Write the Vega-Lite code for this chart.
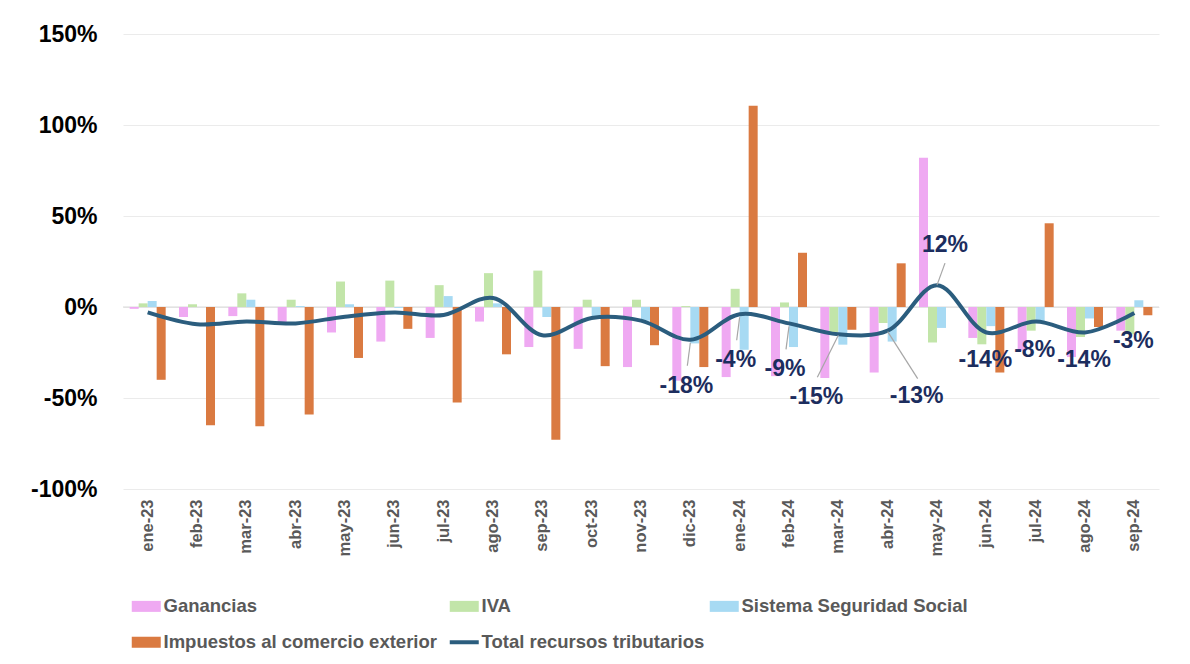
{
  "$schema": "https://vega.github.io/schema/vega-lite/v6.json",
  "width": 1036,
  "height": 455,
  "autosize": "none",
  "padding": {"left": 123, "top": 34, "right": 31, "bottom": 175},
  "background": "white",
  "config": {
    "view": {"stroke": null},
    "font": "Liberation Sans",
    "locale": {"number": {"decimal": ".", "thousands": ",", "grouping": [3], "currency": ["$", ""], "minus": "-"}}
  },
  "datasets": {
    "barras": [
      {"mes": "ene-23", "serie": "Ganancias", "valor": -0.01},
      {"mes": "ene-23", "serie": "IVA", "valor": 0.02},
      {"mes": "ene-23", "serie": "Sistema Seguridad Social", "valor": 0.033},
      {"mes": "ene-23", "serie": "Impuestos al comercio exterior", "valor": -0.40},
      {"mes": "feb-23", "serie": "Ganancias", "valor": -0.055},
      {"mes": "feb-23", "serie": "IVA", "valor": 0.015},
      {"mes": "feb-23", "serie": "Sistema Seguridad Social", "valor": 0.0},
      {"mes": "feb-23", "serie": "Impuestos al comercio exterior", "valor": -0.65},
      {"mes": "mar-23", "serie": "Ganancias", "valor": -0.05},
      {"mes": "mar-23", "serie": "IVA", "valor": 0.075},
      {"mes": "mar-23", "serie": "Sistema Seguridad Social", "valor": 0.04},
      {"mes": "mar-23", "serie": "Impuestos al comercio exterior", "valor": -0.655},
      {"mes": "abr-23", "serie": "Ganancias", "valor": -0.085},
      {"mes": "abr-23", "serie": "IVA", "valor": 0.04},
      {"mes": "abr-23", "serie": "Sistema Seguridad Social", "valor": 0.005},
      {"mes": "abr-23", "serie": "Impuestos al comercio exterior", "valor": -0.59},
      {"mes": "may-23", "serie": "Ganancias", "valor": -0.14},
      {"mes": "may-23", "serie": "IVA", "valor": 0.14},
      {"mes": "may-23", "serie": "Sistema Seguridad Social", "valor": 0.015},
      {"mes": "may-23", "serie": "Impuestos al comercio exterior", "valor": -0.28},
      {"mes": "jun-23", "serie": "Ganancias", "valor": -0.19},
      {"mes": "jun-23", "serie": "IVA", "valor": 0.145},
      {"mes": "jun-23", "serie": "Sistema Seguridad Social", "valor": -0.005},
      {"mes": "jun-23", "serie": "Impuestos al comercio exterior", "valor": -0.12},
      {"mes": "jul-23", "serie": "Ganancias", "valor": -0.17},
      {"mes": "jul-23", "serie": "IVA", "valor": 0.12},
      {"mes": "jul-23", "serie": "Sistema Seguridad Social", "valor": 0.06},
      {"mes": "jul-23", "serie": "Impuestos al comercio exterior", "valor": -0.525},
      {"mes": "ago-23", "serie": "Ganancias", "valor": -0.08},
      {"mes": "ago-23", "serie": "IVA", "valor": 0.186},
      {"mes": "ago-23", "serie": "Sistema Seguridad Social", "valor": 0.02},
      {"mes": "ago-23", "serie": "Impuestos al comercio exterior", "valor": -0.26},
      {"mes": "sep-23", "serie": "Ganancias", "valor": -0.22},
      {"mes": "sep-23", "serie": "IVA", "valor": 0.20},
      {"mes": "sep-23", "serie": "Sistema Seguridad Social", "valor": -0.055},
      {"mes": "sep-23", "serie": "Impuestos al comercio exterior", "valor": -0.73},
      {"mes": "oct-23", "serie": "Ganancias", "valor": -0.23},
      {"mes": "oct-23", "serie": "IVA", "valor": 0.04},
      {"mes": "oct-23", "serie": "Sistema Seguridad Social", "valor": -0.055},
      {"mes": "oct-23", "serie": "Impuestos al comercio exterior", "valor": -0.325},
      {"mes": "nov-23", "serie": "Ganancias", "valor": -0.33},
      {"mes": "nov-23", "serie": "IVA", "valor": 0.04},
      {"mes": "nov-23", "serie": "Sistema Seguridad Social", "valor": -0.075},
      {"mes": "nov-23", "serie": "Impuestos al comercio exterior", "valor": -0.21},
      {"mes": "dic-23", "serie": "Ganancias", "valor": -0.405},
      {"mes": "dic-23", "serie": "IVA", "valor": 0.005},
      {"mes": "dic-23", "serie": "Sistema Seguridad Social", "valor": -0.20},
      {"mes": "dic-23", "serie": "Impuestos al comercio exterior", "valor": -0.33},
      {"mes": "ene-24", "serie": "Ganancias", "valor": -0.385},
      {"mes": "ene-24", "serie": "IVA", "valor": 0.10},
      {"mes": "ene-24", "serie": "Sistema Seguridad Social", "valor": -0.235},
      {"mes": "ene-24", "serie": "Impuestos al comercio exterior", "valor": 1.106},
      {"mes": "feb-24", "serie": "Ganancias", "valor": -0.38},
      {"mes": "feb-24", "serie": "IVA", "valor": 0.025},
      {"mes": "feb-24", "serie": "Sistema Seguridad Social", "valor": -0.22},
      {"mes": "feb-24", "serie": "Impuestos al comercio exterior", "valor": 0.298},
      {"mes": "mar-24", "serie": "Ganancias", "valor": -0.39},
      {"mes": "mar-24", "serie": "IVA", "valor": -0.14},
      {"mes": "mar-24", "serie": "Sistema Seguridad Social", "valor": -0.207},
      {"mes": "mar-24", "serie": "Impuestos al comercio exterior", "valor": -0.125},
      {"mes": "abr-24", "serie": "Ganancias", "valor": -0.36},
      {"mes": "abr-24", "serie": "IVA", "valor": -0.088},
      {"mes": "abr-24", "serie": "Sistema Seguridad Social", "valor": -0.19},
      {"mes": "abr-24", "serie": "Impuestos al comercio exterior", "valor": 0.24},
      {"mes": "may-24", "serie": "Ganancias", "valor": 0.82},
      {"mes": "may-24", "serie": "IVA", "valor": -0.195},
      {"mes": "may-24", "serie": "Sistema Seguridad Social", "valor": -0.115},
      {"mes": "may-24", "serie": "Impuestos al comercio exterior", "valor": 0.0},
      {"mes": "jun-24", "serie": "Ganancias", "valor": -0.17},
      {"mes": "jun-24", "serie": "IVA", "valor": -0.205},
      {"mes": "jun-24", "serie": "Sistema Seguridad Social", "valor": -0.105},
      {"mes": "jun-24", "serie": "Impuestos al comercio exterior", "valor": -0.36},
      {"mes": "jul-24", "serie": "Ganancias", "valor": -0.24},
      {"mes": "jul-24", "serie": "IVA", "valor": -0.13},
      {"mes": "jul-24", "serie": "Sistema Seguridad Social", "valor": -0.08},
      {"mes": "jul-24", "serie": "Impuestos al comercio exterior", "valor": 0.46},
      {"mes": "ago-24", "serie": "Ganancias", "valor": -0.275},
      {"mes": "ago-24", "serie": "IVA", "valor": -0.165},
      {"mes": "ago-24", "serie": "Sistema Seguridad Social", "valor": -0.063},
      {"mes": "ago-24", "serie": "Impuestos al comercio exterior", "valor": -0.11},
      {"mes": "sep-24", "serie": "Ganancias", "valor": -0.13},
      {"mes": "sep-24", "serie": "IVA", "valor": -0.15},
      {"mes": "sep-24", "serie": "Sistema Seguridad Social", "valor": 0.037},
      {"mes": "sep-24", "serie": "Impuestos al comercio exterior", "valor": -0.046}
    ],
    "total": [
      {"mes": "ene-23", "total": -0.03},
      {"mes": "feb-23", "total": -0.095},
      {"mes": "mar-23", "total": -0.08},
      {"mes": "abr-23", "total": -0.09},
      {"mes": "may-23", "total": -0.053},
      {"mes": "jun-23", "total": -0.03},
      {"mes": "jul-23", "total": -0.044},
      {"mes": "ago-23", "total": 0.05},
      {"mes": "sep-23", "total": -0.155},
      {"mes": "oct-23", "total": -0.06},
      {"mes": "nov-23", "total": -0.075},
      {"mes": "dic-23", "total": -0.18},
      {"mes": "ene-24", "total": -0.04},
      {"mes": "feb-24", "total": -0.09},
      {"mes": "mar-24", "total": -0.15},
      {"mes": "abr-24", "total": -0.13},
      {"mes": "may-24", "total": 0.12},
      {"mes": "jun-24", "total": -0.14},
      {"mes": "jul-24", "total": -0.08},
      {"mes": "ago-24", "total": -0.14},
      {"mes": "sep-24", "total": -0.033}
    ]
  },
  "encoding": {
    "x": {
      "field": "mes",
      "type": "nominal",
      "scale": {
        "domain": ["ene-23","feb-23","mar-23","abr-23","may-23","jun-23","jul-23","ago-23","sep-23","oct-23","nov-23","dic-23","ene-24","feb-24","mar-24","abr-24","may-24","jun-24","jul-24","ago-24","sep-24"],
        "paddingInner": 0.27,
        "paddingOuter": 0.135
      },
      "axis": {
        "title": null,
        "labelAngle": -90,
        "labelFontSize": 16.5,
        "labelFontWeight": "bold",
        "labelColor": "#595959",
        "labelPadding": 10,
        "domain": false,
        "ticks": false,
        "grid": false
      }
    }
  },
  "layer": [
    {
      "data": {"values": [{"cero": 0}]},
      "mark": {"type": "rule", "color": "#D9D9D9", "strokeWidth": 1},
      "encoding": {"y": {"field": "cero", "type": "quantitative"}, "x": null}
    },
    {
      "data": {"name": "barras"},
      "mark": {"type": "bar"},
      "encoding": {
        "xOffset": {
          "field": "serie",
          "type": "nominal",
          "scale": {"domain": ["Ganancias","IVA","Sistema Seguridad Social","Impuestos al comercio exterior"], "paddingInner": 0, "paddingOuter": 0}
        },
        "y": {
          "field": "valor",
          "type": "quantitative",
          "scale": {"domain": [-1, 1.5], "nice": false},
          "axis": {
            "title": null,
            "values": [-1, -0.5, 0, 0.5, 1, 1.5],
            "format": ".0%",
            "labelFontSize": 23,
            "labelFontWeight": "bold",
            "labelColor": "#000000",
            "labelPadding": 26,
            "domain": false,
            "ticks": false,
            "gridColor": "#EBEBEB",
            "gridWidth": 1
          }
        },
        "color": {
          "field": "serie",
          "type": "nominal",
          "scale": {
            "domain": ["Ganancias","IVA","Sistema Seguridad Social","Impuestos al comercio exterior","Total recursos tributarios"],
            "range": ["#EFA9F2","#C2E5A9","#A7DAF3","#DA7A41","#2B5D7E"]
          },
          "legend": {
            "title": null,
            "orient": "none",
            "legendX": 14,
            "legendY": 563,
            "direction": "horizontal",
            "columns": 3,
            "columnPadding": 4,
            "rowPadding": 17,
            "padding": 0,
            "labelFontSize": 18.5,
            "labelFontWeight": "bold",
            "labelColor": "#595959",
            "labelOffset": 8,
            "labelLimit": 400,
            "symbolSize": 841,
            "symbolType": "M-1,-0.38H1V0.38H-1Z",
            "encode": {
              "symbols": {
                "update": {
                  "shape": {"signal": "datum.label === 'Total recursos tributarios' ? 'stroke' : 'M-1,-0.38H1V0.38H-1Z'"},
                  "fill": {"signal": "datum.label === 'Total recursos tributarios' ? 'transparent' : scale('color', datum.value)"},
                  "stroke": {"signal": "scale('color', datum.value)"},
                  "strokeWidth": {"signal": "datum.label === 'Total recursos tributarios' ? 4 : 0"},
                  "opacity": {"value": 1}
                }
              }
            }
          }
        }
      }
    },
    {
      "data": {"name": "total"},
      "mark": {"type": "line", "interpolate": "catmull-rom", "strokeWidth": 4},
      "encoding": {
        "y": {"field": "total", "type": "quantitative"},
        "color": {"datum": "Total recursos tributarios"}
      }
    },
    {
      "data": {"name": "total"},
      "transform": [{"filter": {"field": "mes", "oneOf": ["dic-23","ene-24","feb-24"]}}],
      "mark": {"type": "rule", "color": "#A6A6A6", "strokeWidth": 1.2, "yOffset": 3, "x2Offset": -3, "y2Offset": 26},
      "encoding": {
        "y": {"field": "total", "type": "quantitative"},
        "x2": {"field": "mes"},
        "y2": {"field": "total"}
      }
    },
    {
      "data": {"name": "total"},
      "transform": [{"filter": {"field": "mes", "equal": "mar-24"}}],
      "mark": {"type": "rule", "color": "#A6A6A6", "strokeWidth": 1.2, "yOffset": 1, "x2Offset": -21, "y2Offset": 43},
      "encoding": {
        "y": {"field": "total", "type": "quantitative"},
        "x2": {"field": "mes"},
        "y2": {"field": "total"}
      }
    },
    {
      "data": {"name": "total"},
      "transform": [{"filter": {"field": "mes", "equal": "abr-24"}}],
      "mark": {"type": "rule", "color": "#A6A6A6", "strokeWidth": 1.2, "yOffset": 1, "x2Offset": 30, "y2Offset": 48},
      "encoding": {
        "y": {"field": "total", "type": "quantitative"},
        "x2": {"field": "mes"},
        "y2": {"field": "total"}
      }
    },
    {
      "data": {"name": "total"},
      "transform": [{"filter": {"field": "mes", "equal": "may-24"}}],
      "mark": {"type": "rule", "color": "#A6A6A6", "strokeWidth": 1.2, "x2Offset": 8, "y2Offset": -22},
      "encoding": {
        "y": {"field": "total", "type": "quantitative"},
        "x2": {"field": "mes"},
        "y2": {"field": "total"}
      }
    },
    {
      "data": {"name": "total"},
      "transform": [{"filter": {"field": "mes", "oneOf": ["dic-23","ene-24","feb-24"]}}],
      "mark": {"type": "text", "fontSize": 23, "fontWeight": "bold", "color": "#1C2D5E", "dx": -4, "dy": 46, "baseline": "middle", "align": "center"},
      "encoding": {
        "y": {"field": "total", "type": "quantitative"},
        "text": {"field": "total", "type": "quantitative", "format": ".0%"}
      }
    },
    {
      "data": {"name": "total"},
      "transform": [{"filter": {"field": "mes", "equal": "mar-24"}}],
      "mark": {"type": "text", "fontSize": 23, "fontWeight": "bold", "color": "#1C2D5E", "dx": -22, "dy": 63, "baseline": "middle", "align": "center"},
      "encoding": {
        "y": {"field": "total", "type": "quantitative"},
        "text": {"field": "total", "type": "quantitative", "format": ".0%"}
      }
    },
    {
      "data": {"name": "total"},
      "transform": [{"filter": {"field": "mes", "equal": "abr-24"}}],
      "mark": {"type": "text", "fontSize": 23, "fontWeight": "bold", "color": "#1C2D5E", "dx": 29, "dy": 65, "baseline": "middle", "align": "center"},
      "encoding": {
        "y": {"field": "total", "type": "quantitative"},
        "text": {"field": "total", "type": "quantitative", "format": ".0%"}
      }
    },
    {
      "data": {"name": "total"},
      "transform": [{"filter": {"field": "mes", "equal": "may-24"}}],
      "mark": {"type": "text", "fontSize": 23, "fontWeight": "bold", "color": "#1C2D5E", "dx": 8, "dy": -40, "baseline": "middle", "align": "center"},
      "encoding": {
        "y": {"field": "total", "type": "quantitative"},
        "text": {"field": "total", "type": "quantitative", "format": ".0%"}
      }
    },
    {
      "data": {"name": "total"},
      "transform": [{"filter": {"field": "mes", "oneOf": ["jun-24","jul-24","ago-24","sep-24"]}}],
      "mark": {"type": "text", "fontSize": 23, "fontWeight": "bold", "color": "#1C2D5E", "dx": -1, "dy": 28, "baseline": "middle", "align": "center"},
      "encoding": {
        "y": {"field": "total", "type": "quantitative"},
        "text": {"field": "total", "type": "quantitative", "format": ".0%"}
      }
    }
  ]
}
